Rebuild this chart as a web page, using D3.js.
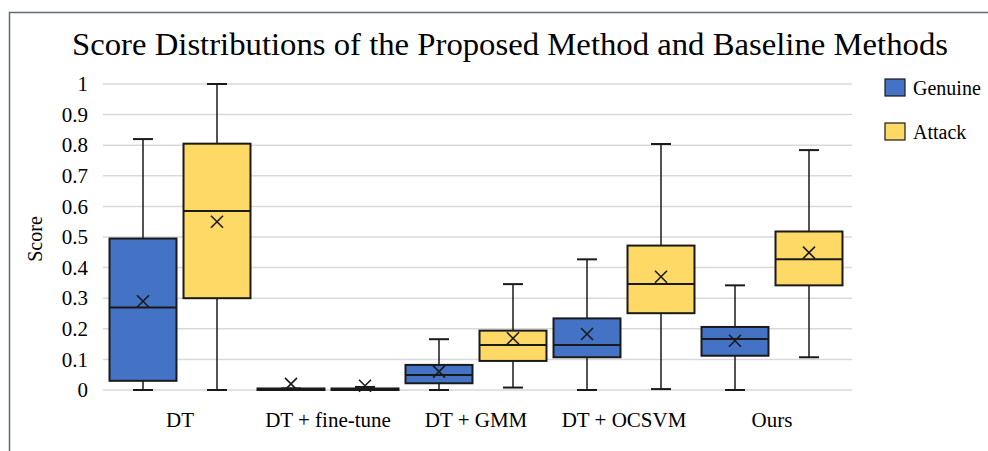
<!DOCTYPE html>
<html>
<head>
<meta charset="utf-8">
<script src="https://cdn.jsdelivr.net/npm/d3@7"></script>
<style>
  body { margin: 0; background: #fff; }
  svg { display: block; font-family: "Liberation Serif", "Times New Roman", serif; }
</style>
</head>
<body>
<svg id="chart" width="988" height="451"></svg>
<script>
var categories = ["DT", "DT + fine-tune", "DT + GMM", "DT + OCSVM", "Ours"];
var seriesNames = ["Genuine", "Attack"];
var yTicks = [0, 0.1, 0.2, 0.3, 0.4, 0.5, 0.6, 0.7, 0.8, 0.9, 1];

// five-number summary + mean, per method
var genuineMin    = [0,     0,     0,     0,     0];
var genuineQ1     = [0.03,  0,     0.022, 0.107, 0.112];
var genuineMedian = [0.27,  0.002, 0.049, 0.147, 0.167];
var genuineQ3     = [0.495, 0.005, 0.082, 0.234, 0.206];
var genuineMax    = [0.82,  0.005, 0.166, 0.427, 0.342];
var genuineMean   = [0.29,  0.02,  0.06,  0.183, 0.161];

var attackMin    = [0,     0,     0.008, 0.003, 0.107];
var attackQ1     = [0.30,  0,     0.095, 0.251, 0.342];
var attackMedian = [0.585, 0.002, 0.147, 0.346, 0.427];
var attackQ3     = [0.805, 0.005, 0.194, 0.472, 0.518];
var attackMax    = [1.0,   0.01,  0.346, 0.804, 0.784];
var attackMean   = [0.55,  0.014, 0.169, 0.37,  0.449];

var colors = {Genuine: "#4472C4", Attack: "#FFD966"};

var boxes = [];
categories.forEach(function(c, i) {
    boxes.push({cat: c, series: "Genuine", min: genuineMin[i], q1: genuineQ1[i], med: genuineMedian[i], q3: genuineQ3[i], max: genuineMax[i], mean: genuineMean[i]});
    boxes.push({cat: c, series: "Attack", min: attackMin[i], q1: attackQ1[i], med: attackMedian[i], q3: attackQ3[i], max: attackMax[i], mean: attackMean[i]});
});

var svg = d3.select("#chart");

// outer frame (top + left edge only visible)
svg.append("path")
    .attr("d", "M9.5,451 V12.5 H988")
    .attr("fill", "none")
    .attr("stroke", "#5d6b78")
    .attr("stroke-width", 1.5);

var x = d3.scaleBand().domain(categories).range([106, 846]).padding(0);
var xs = d3.scaleBand().domain(seriesNames).range([0, x.bandwidth()])
    .paddingInner(0.095).paddingOuter(0.0475);
var y = d3.scaleLinear().domain([0, 1]).range([390, 84]);

// gridlines
svg.append("g").selectAll("line")
    .data(yTicks)
    .enter().append("line")
    .attr("x1", 103).attr("x2", 852)
    .attr("y1", function(d) { return y(d); })
    .attr("y2", function(d) { return y(d); })
    .attr("stroke", "#d9d9d9")
    .attr("stroke-width", 1.5);

// y axis labels
var yAxis = svg.append("g")
    .attr("transform", "translate(103,0)")
    .call(d3.axisLeft(y).tickValues(yTicks).tickSize(0).tickPadding(15).tickFormat(d3.format("~g")));
yAxis.select(".domain").remove();
yAxis.selectAll("text")
    .attr("font-family", "Liberation Serif, serif")
    .attr("font-size", 21)
    .attr("fill", "#000");

// x axis labels
var xAxis = svg.append("g")
    .attr("transform", "translate(0,390)")
    .call(d3.axisBottom(x).tickSize(0).tickPadding(22));
xAxis.select(".domain").remove();
xAxis.selectAll("text")
    .attr("font-family", "Liberation Serif, serif")
    .attr("font-size", 21)
    .attr("fill", "#000");

// y title
svg.append("text")
    .attr("transform", "translate(42,239) rotate(-90)")
    .attr("text-anchor", "middle")
    .attr("font-size", 20)
    .text("Score");

// title
svg.append("text")
    .attr("x", 510)
    .attr("y", 55)
    .attr("text-anchor", "middle")
    .attr("font-size", 32)
    .attr("textLength", 876)
    .attr("lengthAdjust", "spacingAndGlyphs")
    .text("Score Distributions of the Proposed Method and Baseline Methods");

// boxes
var g = svg.append("g").selectAll("g")
    .data(boxes)
    .enter().append("g")
    .attr("transform", function(d) { return "translate(" + (x(d.cat) + xs(d.series)) + ",0)"; });

var bw = xs.bandwidth();
var cx = bw / 2;
var capW = 20;

g.append("line")
    .attr("x1", cx).attr("x2", cx)
    .attr("y1", function(d) { return y(d.max); })
    .attr("y2", function(d) { return y(d.min); })
    .attr("stroke", "#1a1a1a").attr("stroke-width", 1.5);

g.append("line")
    .attr("x1", cx - capW / 2).attr("x2", cx + capW / 2)
    .attr("y1", function(d) { return y(d.max); })
    .attr("y2", function(d) { return y(d.max); })
    .attr("stroke", "#1a1a1a").attr("stroke-width", 2);

g.append("line")
    .attr("x1", cx - capW / 2).attr("x2", cx + capW / 2)
    .attr("y1", function(d) { return y(d.min); })
    .attr("y2", function(d) { return y(d.min); })
    .attr("stroke", "#1a1a1a").attr("stroke-width", 2);

g.append("rect")
    .attr("x", 0)
    .attr("width", bw)
    .attr("y", function(d) { return y(d.q3); })
    .attr("height", function(d) { return y(d.q1) - y(d.q3); })
    .attr("fill", function(d) { return colors[d.series]; })
    .attr("stroke", "#1a1a1a")
    .attr("stroke-width", 2);

g.append("line")
    .attr("x1", 0).attr("x2", bw)
    .attr("y1", function(d) { return y(d.med); })
    .attr("y2", function(d) { return y(d.med); })
    .attr("stroke", "#1a1a1a").attr("stroke-width", 2);

// mean markers
var m = 6;
g.append("path")
    .attr("d", function(d) {
        var yy = y(d.mean);
        return "M" + (cx - m) + "," + (yy - m) + "L" + (cx + m) + "," + (yy + m) +
               "M" + (cx + m) + "," + (yy - m) + "L" + (cx - m) + "," + (yy + m);
    })
    .attr("stroke", "#1a1a1a")
    .attr("stroke-width", 1.6)
    .attr("fill", "none");

// legend
var legend = svg.append("g").selectAll("g")
    .data(seriesNames)
    .enter().append("g")
    .attr("transform", function(d, i) { return "translate(885," + (79 + i * 44) + ")"; });

legend.append("rect")
    .attr("width", 20).attr("height", 17)
    .attr("fill", function(d) { return colors[d]; })
    .attr("stroke", "#1a1a1a")
    .attr("stroke-width", 1.2);

legend.append("text")
    .attr("x", 28)
    .attr("y", 16)
    .attr("font-size", 20)
    .text(function(d) { return d; });
</script>
</body>
</html>
